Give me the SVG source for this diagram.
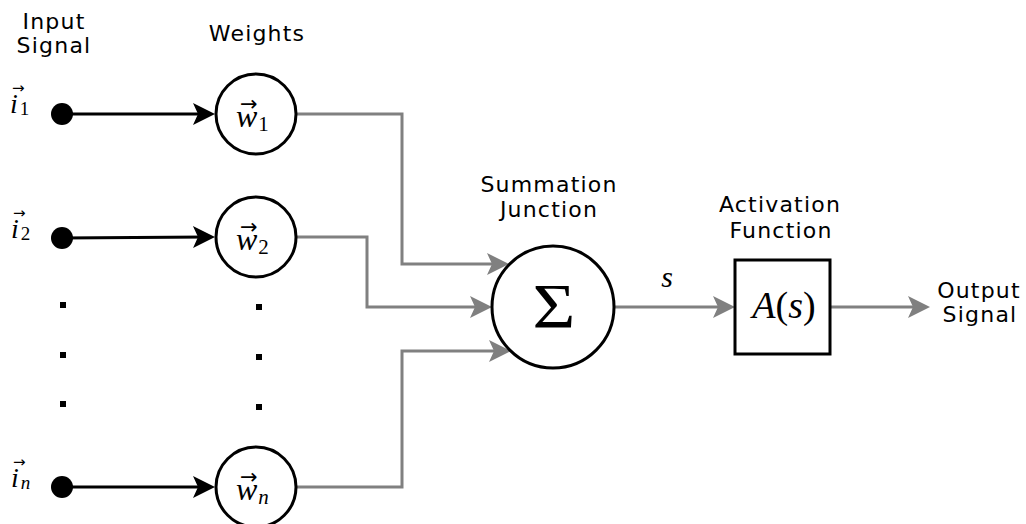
<svg xmlns="http://www.w3.org/2000/svg" width="1026" height="524" viewBox="0 0 1026 524">
<style>
  .lbl { font-family: "DejaVu Sans", "Liberation Sans", sans-serif; font-size: 22px; letter-spacing: 1.2px; fill: #000; text-anchor: middle; }
  .m { font-family: "Liberation Serif", "DejaVu Serif", serif; fill: #000; font-style: italic; }
  .up { font-style: normal; }
  .vec { font-family: "DejaVu Sans", sans-serif; font-style: normal; }
  .node { fill: #fff; stroke: #000; stroke-width: 3; }
  .blk { fill: none; stroke: #000; stroke-width: 3; }
  .gry { fill: none; stroke: #808080; stroke-width: 3; }
  .dot { fill: #000; }
</style>
<defs>
  <marker id="ab" markerUnits="userSpaceOnUse" markerWidth="26" markerHeight="26" viewBox="-2 -13 26 26" refX="14" refY="0" orient="auto">
    <path d="M0,-11 L22,0 L0,11 L5,0 Z" fill="#000"/>
  </marker>
  <marker id="ag" markerUnits="userSpaceOnUse" markerWidth="26" markerHeight="26" viewBox="-2 -13 26 26" refX="14" refY="0" orient="auto">
    <path d="M0,-11 L22,0 L0,11 L5,0 Z" fill="#808080"/>
  </marker>
</defs>

<g id="labels">
  <text class="lbl" x="54" y="29">Input</text>
  <text class="lbl" x="54" y="53">Signal</text>
  <text class="lbl" x="257" y="41">Weights</text>
  <text class="lbl" x="549" y="192">Summation</text>
  <text class="lbl" x="549" y="217">Junction</text>
  <text class="lbl" x="780" y="212">Activation</text>
  <text class="lbl" x="781" y="238">Function</text>
  <text class="lbl" x="979" y="298">Output</text>
  <text class="lbl" x="980" y="322">Signal</text>
</g>

<g id="connectors">
  <path class="blk" d="M62,114 H207" marker-end="url(#ab)"/>
  <path class="blk" d="M62,238 L207,237" marker-end="url(#ab)"/>
  <path class="blk" d="M62,487 H207" marker-end="url(#ab)"/>
  <path class="gry" d="M296,114 H402 V264 H501" marker-end="url(#ag)"/>
  <path class="gry" d="M296,237 H367 V307 H484" marker-end="url(#ag)"/>
  <path class="gry" d="M296,487 H402 V351 H503" marker-end="url(#ag)"/>
  <path class="gry" d="M614,307 H727" marker-end="url(#ag)"/>
  <path class="gry" d="M830,307 H922" marker-end="url(#ag)"/>
</g>

<g id="input-1">
  <circle class="dot" cx="62" cy="114" r="11"/>
  <text class="m" x="10" y="113" font-size="28">i<tspan class="up" font-size="19" dx="2" dy="2">1</tspan><tspan class="vec" font-size="15" x="12" y="93">→</tspan></text>
</g>
<g id="input-2">
  <circle class="dot" cx="62" cy="238" r="11"/>
  <text class="m" x="11" y="238" font-size="28">i<tspan class="up" font-size="19" dx="2" dy="2">2</tspan><tspan class="vec" font-size="15" x="13" y="218">→</tspan></text>
</g>
<g id="input-n">
  <circle class="dot" cx="62" cy="487" r="11"/>
  <text class="m" x="11" y="487" font-size="28">i<tspan font-size="19" dx="2" dy="2">n</tspan><tspan class="vec" font-size="15" x="13" y="467">→</tspan></text>
</g>

<g id="input-ellipsis">
  <rect x="60" y="302" width="6" height="6"/>
  <rect x="60" y="352" width="6" height="6"/>
  <rect x="60" y="401" width="6" height="6"/>
</g>
<g id="weight-ellipsis">
  <rect x="256" y="304" width="6" height="6"/>
  <rect x="256" y="354" width="6" height="6"/>
  <rect x="256" y="404" width="6" height="6"/>
</g>

<g id="weight-1">
  <circle class="node" cx="256" cy="114" r="40"/>
  <text class="m" x="236" y="127" font-size="32">w<tspan class="up" font-size="21" dx="1" dy="4">1</tspan><tspan class="vec" font-size="21" x="240" y="111">→</tspan></text>
</g>
<g id="weight-2">
  <circle class="node" cx="256" cy="237" r="40"/>
  <text class="m" x="236" y="250" font-size="32">w<tspan class="up" font-size="21" dx="1" dy="4">2</tspan><tspan class="vec" font-size="21" x="240" y="234">→</tspan></text>
</g>
<g id="weight-n">
  <circle class="node" cx="256" cy="487" r="40"/>
  <text class="m" x="236" y="500" font-size="32">w<tspan font-size="21" dx="1" dy="4">n</tspan><tspan class="vec" font-size="21" x="240" y="484">→</tspan></text>
</g>

<g id="summation">
  <circle class="node" cx="553" cy="307" r="61"/>
  <text class="m up" x="0" y="0" font-size="64" text-anchor="middle" transform="translate(554,328) scale(1.15,1)">Σ</text>
</g>

<g id="s-label">
  <text class="m" x="667" y="287" font-size="30" text-anchor="middle">s</text>
</g>

<g id="activation">
  <rect class="node" x="735" y="260" width="95" height="94"/>
  <text class="m" x="784" y="318" font-size="38" text-anchor="middle">A<tspan class="up">(</tspan>s<tspan class="up">)</tspan></text>
</g>
</svg>
